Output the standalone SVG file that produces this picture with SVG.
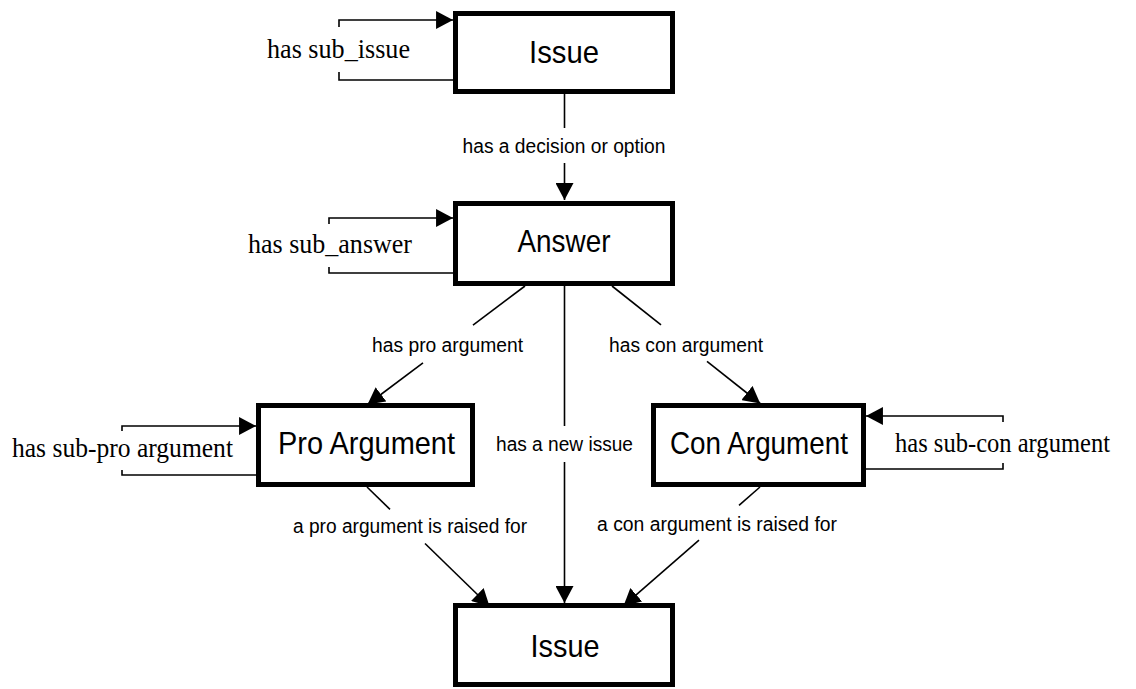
<svg xmlns="http://www.w3.org/2000/svg" width="1136" height="689" viewBox="0 0 1136 689">
<defs>
<marker id="arr" markerUnits="userSpaceOnUse" markerWidth="17" markerHeight="18" viewBox="0 0 16 17" refX="16" refY="8.5" orient="auto">
<path d="M0,0 L16,8.5 L0,17 z" fill="#000"/>
</marker>
<style>
.box{fill:#fff;stroke:#000;stroke-width:5}
.ln{fill:none;stroke:#000;stroke-width:1.6}
.nt{font-family:"Liberation Sans",Arial,sans-serif;font-size:32px;fill:#000;text-anchor:middle}
.el{font-family:"Liberation Sans",Arial,sans-serif;font-size:20px;fill:#000;text-anchor:middle}
.sl{font-family:"Liberation Serif","Times New Roman",serif;font-size:27px;fill:#000}
</style>
</defs>
<rect width="1136" height="689" fill="#fff"/>
<g id="connectors">
<path class="ln" d="M564.5,94 V128"/>
<path class="ln" d="M564.5,163 V200" marker-end="url(#arr)"/>
<text class="el" x="564" y="153" textLength="203" lengthAdjust="spacingAndGlyphs">has a decision or option</text>
<path class="ln" d="M525,286 L473,325.1"/>
<path class="ln" d="M423,362.8 L367.5,404.5" marker-end="url(#arr)"/>
<text class="el" x="447.5" y="352" textLength="151" lengthAdjust="spacingAndGlyphs">has pro argument</text>
<path class="ln" d="M612,286 L661,324.9"/>
<path class="ln" d="M707,361.3 L760.2,403.5" marker-end="url(#arr)"/>
<text class="el" x="686" y="352" textLength="154" lengthAdjust="spacingAndGlyphs">has con argument</text>
<path class="ln" d="M564.5,286 V426"/>
<path class="ln" d="M564.5,462 V603" marker-end="url(#arr)"/>
<text class="el" x="564.5" y="451" textLength="137" lengthAdjust="spacingAndGlyphs">has a new issue</text>
<path class="ln" d="M367,487 L390,509.4"/>
<path class="ln" d="M425,543.5 L489.5,606.3" marker-end="url(#arr)"/>
<text class="el" x="410" y="533" textLength="234" lengthAdjust="spacingAndGlyphs">a pro argument is raised for</text>
<path class="ln" d="M760,487 L739,505.3"/>
<path class="ln" d="M699,540.1 L623.5,605.9" marker-end="url(#arr)"/>
<text class="el" x="717" y="531" textLength="240" lengthAdjust="spacingAndGlyphs">a con argument is raised for</text>
<path class="ln" d="M339,27 V20 H453" marker-end="url(#arr)"/>
<path class="ln" d="M339,72 V80 H455"/>
<text class="sl" x="267" y="58" textLength="143" lengthAdjust="spacingAndGlyphs">has sub_issue</text>
<path class="ln" d="M329,224 V218 H453" marker-end="url(#arr)"/>
<path class="ln" d="M329,267 V273 H455"/>
<text class="sl" x="248" y="253" textLength="164" lengthAdjust="spacingAndGlyphs">has sub_answer</text>
<path class="ln" d="M122,431 V426 H256" marker-end="url(#arr)"/>
<path class="ln" d="M122,470 V475 H258"/>
<text class="sl" x="12" y="457" textLength="221" lengthAdjust="spacingAndGlyphs">has sub-pro argument</text>
<path class="ln" d="M1003,422 V416 H866" marker-end="url(#arr)"/>
<path class="ln" d="M1003,463 V469 H864"/>
<text class="sl" x="895" y="452" textLength="215" lengthAdjust="spacingAndGlyphs">has sub-con argument</text>
</g>
<g id="issue-top">
<rect class="box" x="455.5" y="13.5" width="217" height="78"/>
<text class="nt" x="564" y="63" textLength="70" lengthAdjust="spacingAndGlyphs">Issue</text>
</g>
<g id="answer">
<rect class="box" x="455.5" y="203.5" width="217" height="80"/>
<text class="nt" x="564" y="252" textLength="93" lengthAdjust="spacingAndGlyphs">Answer</text>
</g>
<g id="pro-argument">
<rect class="box" x="258.5" y="405.5" width="214" height="79"/>
<text class="nt" x="366.5" y="454" textLength="177" lengthAdjust="spacingAndGlyphs">Pro Argument</text>
</g>
<g id="con-argument">
<rect class="box" x="653.5" y="405.5" width="210" height="79"/>
<text class="nt" x="759" y="454" textLength="178" lengthAdjust="spacingAndGlyphs">Con Argument</text>
</g>
<g id="issue-bottom">
<rect class="box" x="455.5" y="605.5" width="217" height="79"/>
<text class="nt" x="565" y="657" textLength="69" lengthAdjust="spacingAndGlyphs">Issue</text>
</g>
</svg>
